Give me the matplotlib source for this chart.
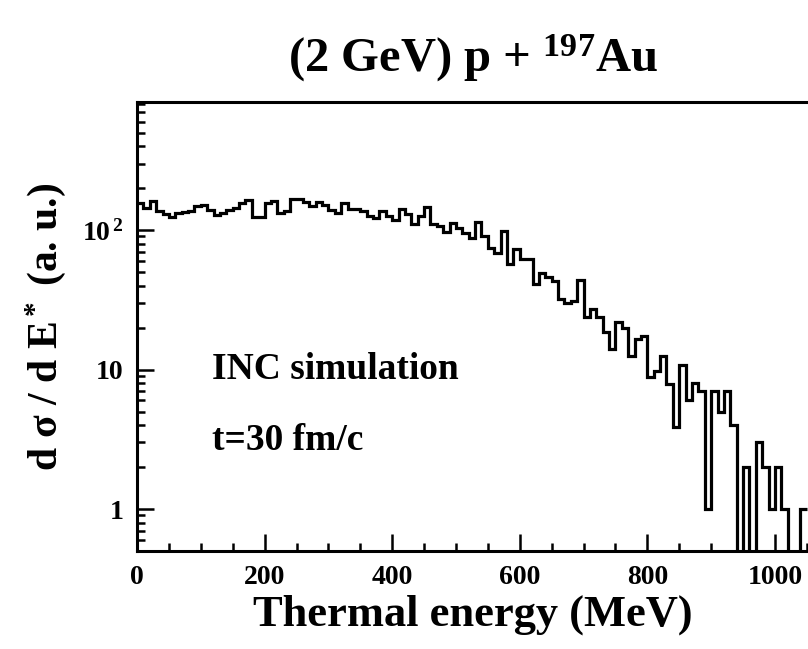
import numpy as np
import matplotlib.pyplot as plt
from matplotlib.ticker import MultipleLocator, FixedLocator, FixedFormatter, LogLocator, NullFormatter

plt.rcParams['font.family'] = ['Liberation Serif', 'DejaVu Serif']
plt.rcParams['font.weight'] = 'bold'
plt.rcParams['mathtext.fontset'] = 'custom'
plt.rcParams['mathtext.rm'] = 'Liberation Serif:bold'
plt.rcParams['mathtext.bf'] = 'Liberation Serif:bold'
plt.rcParams['mathtext.it'] = 'Liberation Serif:bold:italic'

# histogram: 10 MeV bins from 0 to 1050 MeV
bin_edges = np.arange(0, 1060, 10)
counts = [
    157, 145, 161, 137, 130, 124, 133, 135, 137, 148,   # 0-100
    152, 140, 129, 133, 140, 144, 157, 165, 124, 124,   # 100-200
    157, 161, 132, 137, 167, 167, 160, 150, 160, 152,   # 200-300
    140, 133, 157, 142, 141, 137, 126, 122, 137, 126,   # 300-400
    119, 141, 131, 110, 126, 146, 111, 107, 97, 113,    # 400-500
    104, 96, 88, 114, 91, 75, 69, 99, 57, 73,           # 500-600
    62, 62, 41, 49, 46, 43, 32, 30, 31, 44,             # 600-700
    24, 27, 24, 18.5, 14, 22, 20, 12.6, 16.6, 17.5,     # 700-800
    8.8, 9.8, 12.6, 7.9, 3.9, 10.7, 6, 8, 7, 1,         # 800-900
    7, 5, 7, 4, 0, 2, 0, 3, 2, 1,                       # 900-1000
    2, 1, 0, 0, 1,                                      # 1000-1050
]

x_ticks = [0, 200, 400, 600, 800, 1000]
y_ticks = [1, 10, 100]
y_tick_labels = ['1', '10', r'10$^{\,2}$']

fig = plt.figure(figsize=(8.08, 6.49), dpi=100)
ax = fig.add_axes([0.1696, 0.151, 0.8305, 0.692])

ax.stairs(counts, bin_edges, baseline=None, color='black', linewidth=2.3)

ax.set_yscale('log')
ax.set_xlim(0, 1052)
ax.set_ylim(0.5, 830)

ax.xaxis.set_major_locator(FixedLocator(x_ticks))
ax.xaxis.set_minor_locator(MultipleLocator(50))
ax.yaxis.set_major_locator(FixedLocator(y_ticks))
ax.yaxis.set_major_formatter(FixedFormatter(y_tick_labels))
ax.yaxis.set_minor_locator(LogLocator(base=10, subs=np.arange(2, 10)))
ax.yaxis.set_minor_formatter(NullFormatter())

ax.tick_params(which='both', direction='in', width=1.8, labelsize=20,
               top=False, right=False)
ax.tick_params(which='major', length=12, pad=10)
ax.tick_params(which='minor', length=6)
for lab in ax.get_xticklabels() + ax.get_yticklabels():
    lab.set_fontweight('bold')

for side in ['left', 'bottom', 'top']:
    ax.spines[side].set_linewidth(2.2)
ax.spines['right'].set_visible(False)

ax.set_xlabel('Thermal energy (MeV)', fontsize=32, fontweight='bold', labelpad=3)
ax.set_ylabel('d σ / d E$^*$ (a. u.)', fontsize=30, fontweight='bold', labelpad=10)
ax.set_title(r'(2 GeV) p + $^{197}$Au', fontsize=35, fontweight='bold', pad=22)

ax.text(118, 10, 'INC simulation', fontsize=27, fontweight='bold', va='center')
ax.text(118, 3.1, 't=30 fm/c', fontsize=27, fontweight='bold', va='center')

fig.savefig('out.png', dpi=100)
